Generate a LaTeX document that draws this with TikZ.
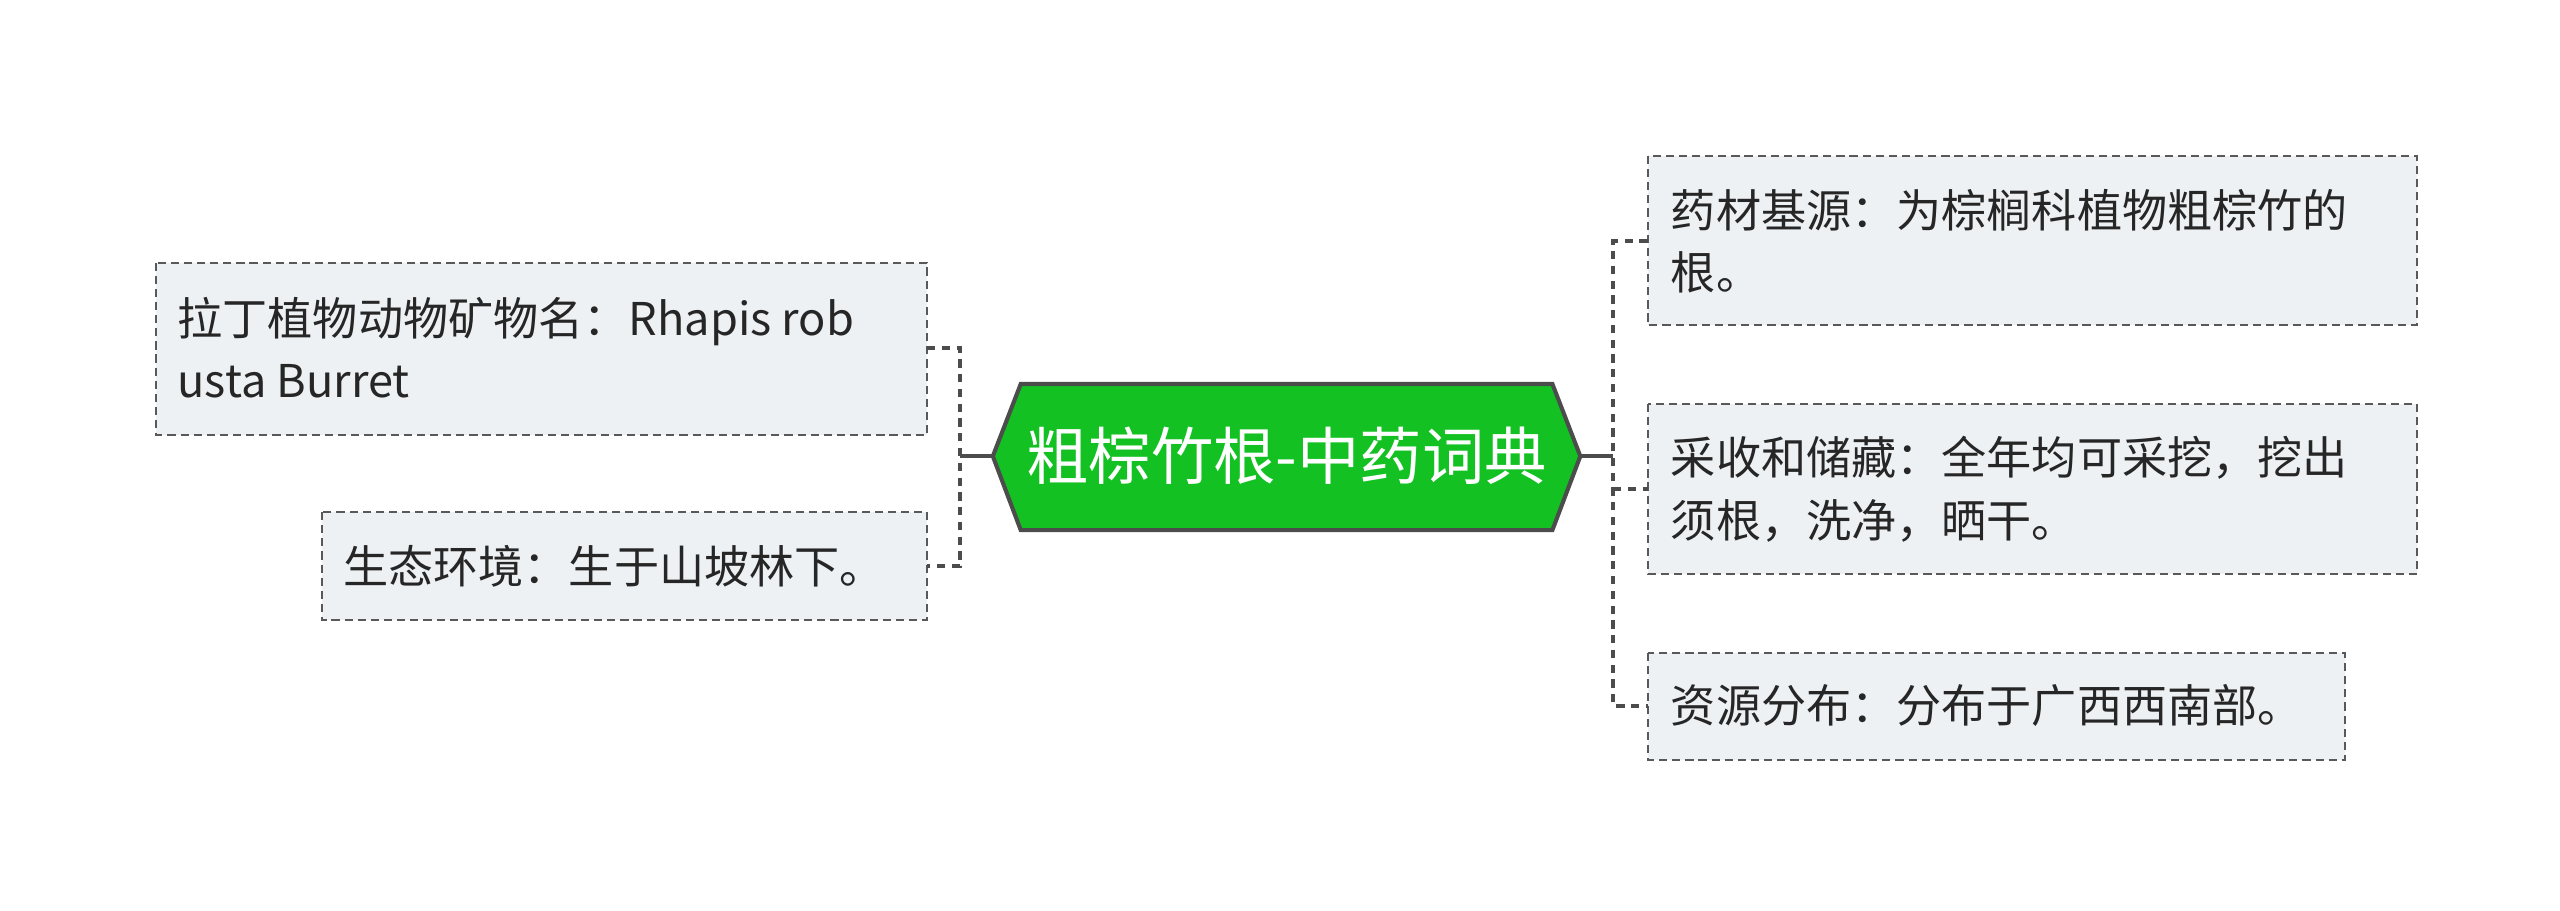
\documentclass[tikz,border=0pt]{standalone}
\usepackage{fontspec}
\setmainfont{Noto Sans CJK SC}
\begin{document}
\begin{tikzpicture}[x=1pt,y=-1pt,
  leaf/.style={draw=black!65,dashed,dash pattern=on 5pt off 3pt,fill=boxfill,line width=1.3pt,inner sep=0pt},
  lbl/.style={anchor=west,align=left,font=\fontsize{27.5}{38}\selectfont,text=black!85,inner sep=0pt},
  conn/.style={draw=black!70,line width=2.5pt,dashed,dash pattern=on 5pt off 4pt},
  solid conn/.style={draw=black!70,line width=2.5pt}]
\definecolor{boxfill}{HTML}{EEF1F4}
\definecolor{hexgreen}{HTML}{13C122}
\useasboundingbox (0,0) rectangle (1560,555);
% center
\draw[fill=hexgreen,draw=black!70,line width=2.5pt] (605,278)--(622,234)--(946,234)--(963,278)--(946,323)--(622,323)--cycle;
\node[font=\fontsize{38}{42}\selectfont,text=white] (ct) at (784,278) {粗棕竹根-中药词典};
% left boxes
\path[leaf] (95,160) rectangle (565,265);
\node[lbl] (l1) at (108,212) {拉丁植物动物矿物名：Rhapis rob\\usta Burret};
\path[leaf] (196,312) rectangle (565,378);
\node[lbl] (l2) at (209,345) {生态环境：生于山坡林下。};
% right boxes
\path[leaf] (1004,95) rectangle (1473,198);
\node[lbl] (r1) at (1018,147) {药材基源：为棕榈科植物粗棕竹的\\根。};
\path[leaf] (1004,246) rectangle (1473,350);
\node[lbl] (r2) at (1018,298) {采收和储藏：全年均可采挖，挖出\\须根，洗净，晒干。};
\path[leaf] (1004,398) rectangle (1429,463);
\node[lbl] (r3) at (1018,430) {资源分布：分布于广西西南部。};
% connectors
\coordinate (lj) at (585,278);
\coordinate (rj) at (983,278);
\draw[solid conn] (605,278)--(lj);
\draw[conn] (565,212)-|(lj)|-(565,345);
\draw[solid conn] (963,278)--(rj);
\draw[conn] (1004,147)-|(rj)|-(1004,430);
\draw[conn] (rj|-298,298)--(1004,298);
\end{tikzpicture}
\end{document}
